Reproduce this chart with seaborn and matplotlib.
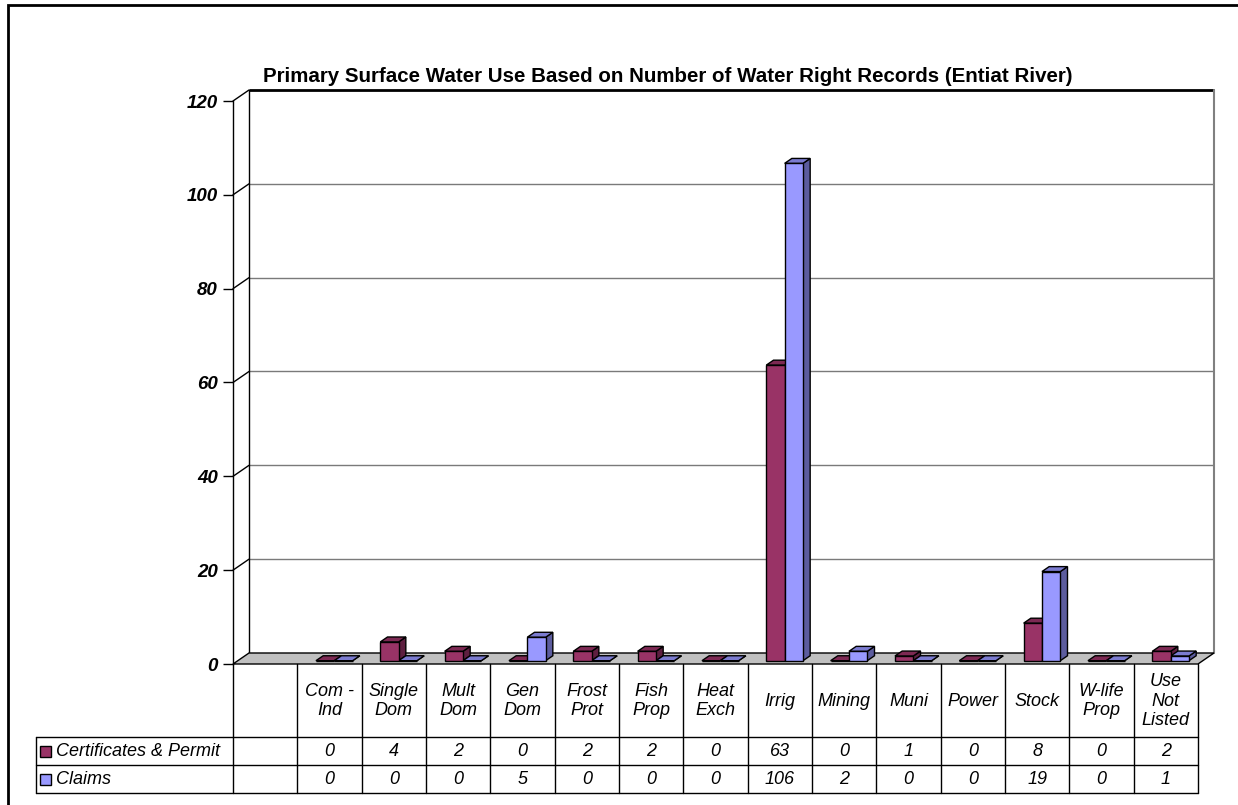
import matplotlib
matplotlib.use("Agg")
import matplotlib.pyplot as plt
import matplotlib.transforms as mtransforms
from matplotlib.patches import Polygon, Rectangle
import seaborn as sns
import pandas as pd

# ---- data -------------------------------------------------------------
categories = ["", "Com -\nInd", "Single\nDom", "Mult\nDom", "Gen\nDom", "Frost\nProt",
              "Fish\nProp", "Heat\nExch", "Irrig", "Mining", "Muni", "Power",
              "Stock", "W-life\nProp", "Use\nNot\nListed"]
series_names = ["Certificates & Permit", "Claims"]
certificates = [None, 0, 4, 2, 0, 2, 2, 0, 63, 0, 1, 0, 8, 0, 2]
claims = [None, 0, 0, 0, 5, 0, 0, 0, 106, 2, 0, 0, 19, 0, 1]
y_ticks = [0, 20, 40, 60, 80, 100, 120]
title = "Primary Surface Water Use Based on Number of Water Right Records (Entiat River)"

front_colors = ["#993366", "#9999FF"]
side_colors = ["#5E1F40", "#5C5C9E"]
top_colors = ["#7D2953", "#7B7BD0"]

rows = []
for cat, c, w in zip(categories, certificates, claims):
    if c is not None:
        rows.append({"use": cat, "count": c, "type": series_names[0]})
        rows.append({"use": cat, "count": w, "type": series_names[1]})
df = pd.DataFrame(rows)

# ---- figure -----------------------------------------------------------
W, H = 1238, 805
sns.set_theme(style="white")
plt.rcParams["font.family"] = ["Liberation Sans", "DejaVu Sans"]
plt.rcParams["text.color"] = "black"
plt.rcParams["ytick.labelcolor"] = "black"
fig = plt.figure(figsize=(W / 100, H / 100), dpi=100)
fig.patch.set_facecolor("white")


def fx(px):
    return px / W


def fy(py):
    return 1 - py / H


# front plane of the 3-D plot
x0_px, x1_px, ytop_px, y0_px = 233, 1198, 101, 664
ax = fig.add_axes([fx(x0_px), fy(y0_px), fx(x1_px - x0_px), (y0_px - ytop_px) / H])
ax.set_facecolor("none")
n = len(categories)

sns.barplot(data=df, x="use", y="count", hue="type", order=categories,
            hue_order=series_names, palette=front_colors, width=0.57,
            edgecolor="black", linewidth=1.0, saturation=1, legend=False, ax=ax,
            zorder=4)
ax.set_xlim(-0.5, n - 0.5)
ax.set_ylim(0, 120)

# depth of the floor in data units
px_per_x = (x1_px - x0_px) / n
px_per_y = (y0_px - ytop_px) / 120
DX, DY = 16 / px_per_x, 11 / px_per_y

# back wall: gridlines, side diagonals and frame
for t in y_ticks[1:]:
    col = "black" if t == 120 else "#7a7a7a"
    lw = 2.0 if t == 120 else 1.0
    ax.plot([-0.5 + DX, n - 0.5 + DX], [t + DY, t + DY], color=col, lw=lw,
            clip_on=False, zorder=0.5, solid_capstyle="butt")
    ax.plot([-0.5, -0.5 + DX], [t, t + DY], color="black", lw=1.0,
            clip_on=False, zorder=0.6)
ax.plot([-0.5 + DX, -0.5 + DX], [DY, 120 + DY], color="black", lw=1.0,
        clip_on=False, zorder=0.6)
ax.plot([n - 0.5 + DX, n - 0.5 + DX], [DY, 120 + DY], color="#808080", lw=1.5,
        clip_on=False, zorder=0.6)

# floor
floor = Polygon([(-0.5, 0), (n - 0.5, 0), (n - 0.5 + DX, DY), (-0.5 + DX, DY)],
                closed=True, facecolor="#C0C0C0", edgecolor="black", lw=1.0,
                clip_on=False, zorder=1)
ax.add_patch(floor)

# give each bar a depth: shift the front face back and add side and top faces
front = 0.3
depth = 0.45
bars = [p for p in ax.patches if isinstance(p, Rectangle) and p is not floor]
nbars_per = len(bars) // 2
for i, bar in enumerate(bars):
    s = i // nbars_per
    x, w, h = bar.get_x(), bar.get_width(), bar.get_height()
    x += front * DX
    yb = front * DY
    bar.set_x(x)
    bar.set_y(yb)
    bar.set_clip_on(False)
    ddx, ddy = depth * DX, depth * DY
    side = Polygon([(x + w, yb), (x + w + ddx, yb + ddy), (x + w + ddx, yb + h + ddy),
                    (x + w, yb + h)], closed=True, facecolor=side_colors[s],
                   edgecolor="black", lw=1.0, clip_on=False, zorder=3)
    top = Polygon([(x, yb + h), (x + w, yb + h), (x + w + ddx, yb + h + ddy),
                   (x + ddx, yb + h + ddy)], closed=True, facecolor=top_colors[s],
                  edgecolor="black", lw=1.0, clip_on=False, zorder=3)
    ax.add_patch(side)
    ax.add_patch(top)

# axes styling
for name in ["top", "right", "bottom"]:
    ax.spines[name].set_visible(False)
ax.spines["left"].set_color("black")
ax.spines["left"].set_linewidth(1.0)
ax.set_xticks([])
ax.set_yticks(y_ticks)
ax.set_yticklabels([str(t) for t in y_ticks], fontsize=13.5, fontweight="bold",
                   fontstyle="italic", color="black")
ax.tick_params(axis="y", direction="out", length=7.5, width=1.0, color="black",
               pad=3.5, left=True)
ax.set_xlabel("")
ax.set_ylabel("")
ax.grid(False)

# ---- data table -------------------------------------------------------
tb = mtransforms.blended_transform_factory(ax.transData, fig.transFigure)
head_bot, row1_bot, row2_bot = 737, 765, 793
tbl_left = 36
line_kw = dict(color="black", lw=1.0, clip_on=False)

for k in range(n + 1):
    xb = k - 0.5
    ax.plot([xb, xb], [fy(y0_px), fy(row2_bot)], transform=tb, **line_kw)
for yy in [head_bot, row1_bot, row2_bot]:
    fig.add_artist(plt.Line2D([fx(tbl_left), fx(x1_px)], [fy(yy), fy(yy)],
                              color="black", lw=1.0))
fig.add_artist(plt.Line2D([fx(tbl_left), fx(tbl_left)], [fy(head_bot), fy(row2_bot)],
                          color="black", lw=1.0))

text_kw = dict(fontsize=13, fontstyle="italic", color="black")
for k, cat in enumerate(categories):
    ax.text(k, fy((y0_px + head_bot) / 2 + 0.5), cat, transform=tb, ha="center",
            va="center", linespacing=1.17, **text_kw)
    for r, (vals, yy) in enumerate([(certificates, (head_bot + row1_bot) / 2),
                                     (claims, (row1_bot + row2_bot) / 2)]):
        if vals[k] is not None:
            ax.text(k, fy(yy), str(vals[k]), transform=tb, ha="center",
                    va="center", **text_kw)

for r, (name, yy) in enumerate([(series_names[0], (head_bot + row1_bot) / 2),
                                 (series_names[1], (row1_bot + row2_bot) / 2)]):
    key = Rectangle((fx(40), fy(yy + 6)), fx(11), 11 / H, transform=fig.transFigure,
                    facecolor=front_colors[r], edgecolor="black", lw=1.0)
    fig.add_artist(key)
    fig.text(fx(56), fy(yy), name, ha="left", va="center", **text_kw)

# ---- title and outer frame -------------------------------------------
fig.text(fx(668), fy(76), title, ha="center", va="center", fontsize=14.8,
         fontweight="bold")
fig.add_artist(Rectangle((fx(8), fy(H + 10)), fx(W + 20), (H + 5) / H,
                         transform=fig.transFigure, fill=False,
                         edgecolor="black", lw=2.0))

fig.savefig("out.png", dpi=100)
